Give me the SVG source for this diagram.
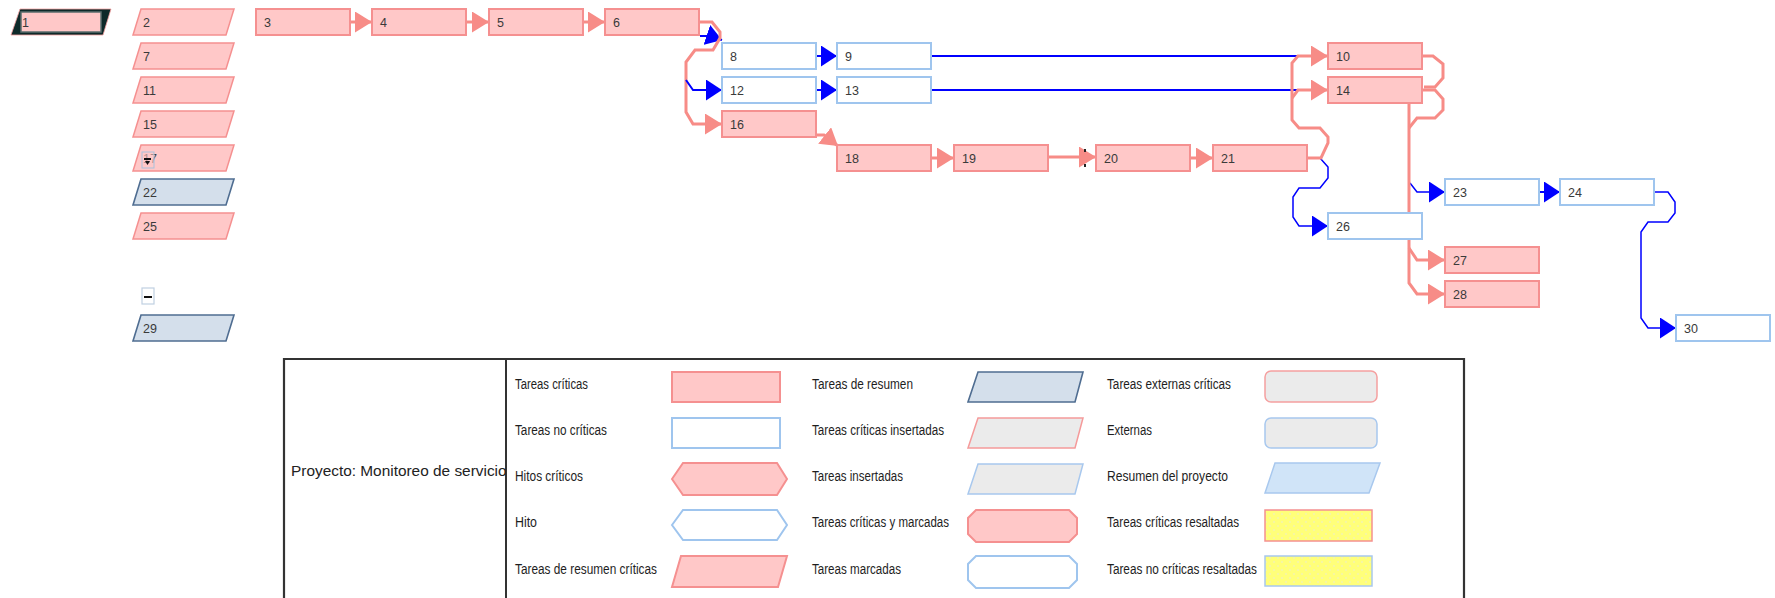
<svg xmlns="http://www.w3.org/2000/svg" width="1775" height="598" viewBox="0 0 1775 598">
<style>
.t{font-family:"Liberation Sans",Arial,sans-serif;font-size:12.5px;fill:#3a3a3a}
.lg{font-family:"Liberation Sans",Arial,sans-serif;font-size:14px;fill:#1e1e1e}
.crit{fill:#ffc8c8;stroke:#f59090;stroke-width:2}
.nc{fill:#ffffff;stroke:#9fc5ee;stroke-width:2}
.sumc{fill:#ffc8c8;stroke:#f59090;stroke-width:1.5}
.sum{fill:#d4dfeb;stroke:#4f6d91;stroke-width:1.6}
.pk{fill:none;stroke:#f78c87;stroke-width:3;stroke-linejoin:miter}
.bl{fill:none;stroke:#0000ff;stroke-width:2}
.bl1{fill:none;stroke:#0000ff;stroke-width:1.5}
.ins{fill:#ebebeb}
</style>
<defs>
<marker id="ap" markerUnits="userSpaceOnUse" viewBox="0 0 17 21" refX="17" refY="10.5" markerWidth="17" markerHeight="21" orient="auto">
<path d="M0,0 L17,10.5 L0,21 Z" fill="#f78c87"/>
</marker>
<marker id="ab" markerUnits="userSpaceOnUse" viewBox="0 0 16 21" refX="16" refY="10.5" markerWidth="16" markerHeight="21" orient="auto">
<path d="M0,0 L16,10.5 L0,21 Z" fill="#0000ff"/>
</marker>
<pattern id="yel" width="8" height="8" patternUnits="userSpaceOnUse">
<rect width="8" height="8" fill="#ffff7a"/>
<circle cx="2" cy="2" r="1" fill="#f4f4b0"/>
<circle cx="6" cy="6" r="1" fill="#f4f4b0"/>
</pattern>
<clipPath id="projclip"><rect x="285" y="360" width="221" height="238"/></clipPath>
</defs>

<g id="connectors">
<path class="pk" d="M351,22 H372" marker-end="url(#ap)"/>
<path class="pk" d="M466,22 H489" marker-end="url(#ap)"/>
<path class="pk" d="M583,22 H605" marker-end="url(#ap)"/>
<path class="bl" d="M700,36 H710 L722,40" marker-end="url(#ab)"/>
<path class="pk" d="M699,22 H712 L720,32 V38 L713,50 H695 L686,62 V112 L693,124 H722" marker-end="url(#ap)"/>
<path class="bl" d="M686,80 L693,90 H722" marker-end="url(#ab)"/>
<path class="bl" d="M817,56 H837" marker-end="url(#ab)"/>
<path class="bl" d="M817,90 H837" marker-end="url(#ab)"/>
<path class="bl" d="M932,56 H1300"/>
<path class="bl" d="M932,90 H1300"/>
<path class="pk" d="M817,135 H824 L838,146" marker-end="url(#ap)"/>
<path class="pk" d="M932,158 H954" marker-end="url(#ap)"/>
<path class="pk" d="M1049,157 H1096" marker-end="url(#ap)"/>
<path class="pk" d="M1191,158 H1213" marker-end="url(#ap)"/>
<path class="bl1" d="M1307,158 H1320 L1328,167 V178 L1320,188 H1299 L1293,197 V217 L1299,226 H1328" marker-end="url(#ab)"/>
<path class="pk" d="M1307,158 H1321 L1328,143 V137 L1320,128 H1299 L1292,120 V63 L1298,56 H1328" marker-end="url(#ap)"/>
<path class="pk" d="M1292,98 L1298,90 H1328" marker-end="url(#ap)"/>
<path class="pk" d="M1422,56 H1433 L1443,64 V78 L1435,87 H1424"/>
<path class="pk" d="M1422,90 H1435 L1443,99 V110 L1435,118 H1417 L1409,128"/>
<path class="bl1" d="M1410,183 L1417,192 H1445" marker-end="url(#ab)"/>
<path class="pk" d="M1409,102 V283 L1417,294 H1445" marker-end="url(#ap)"/>
<path class="pk" d="M1409,248 L1417,260 H1445" marker-end="url(#ap)"/>
<path class="bl" d="M1539,192 H1560" marker-end="url(#ab)"/>
<path class="bl1" d="M1654,192 H1668 L1675,202 V213 L1668,222 H1648 L1641,232 V318 L1648,328 H1676" marker-end="url(#ab)"/>
<rect x="1084" y="149" width="2" height="3" fill="#222"/>
<rect x="1084" y="164" width="2" height="3" fill="#222"/>
</g>

<g id="n1">
<polygon points="20,9 111,9 103,35 11,35" fill="#0e2a2a" stroke="#f5a0a0" stroke-width="0.8"/>
<rect x="21" y="12" width="80" height="20" fill="#ffc8c8" stroke="#5b6e6e" stroke-width="1.5"/>
<text class="t" x="22" y="27">1</text>
</g>
<g id="n2"><polygon class="sumc" points="141,9 234,9 226,35 133,35"/><text class="t" x="143" y="27">2</text></g>
<g id="n7"><polygon class="sumc" points="141,43 234,43 226,69 133,69"/><text class="t" x="143" y="61">7</text></g>
<g id="n11"><polygon class="sumc" points="141,77 234,77 226,103 133,103"/><text class="t" x="143" y="95">11</text></g>
<g id="n15"><polygon class="sumc" points="141,111 234,111 226,137 133,137"/><text class="t" x="143" y="129">15</text></g>
<g id="n17"><polygon class="sumc" points="141,145 234,145 226,171 133,171"/><text class="t" x="143" y="163">17</text>
<rect x="142" y="152" width="12" height="16" fill="#ffc8c8" fill-opacity="0.6" stroke="#a9c2dc" stroke-width="1"/>
<rect x="144" y="158" width="7" height="2" fill="#111"/>
<path d="M145,161 L150,161 L147.5,165 Z" fill="#111"/>
</g>
<g id="n22"><polygon class="sum" points="141,179 234,179 226,205 133,205"/><text class="t" x="143" y="197">22</text></g>
<g id="n25"><polygon class="sumc" points="141,213 234,213 226,239 133,239"/><text class="t" x="143" y="231">25</text></g>
<g id="n29"><polygon class="sum" points="141,315 234,315 226,341 133,341"/><text class="t" x="143" y="333">29</text>
<rect x="142" y="288" width="12" height="16" fill="#fff" stroke="#c0d0e2" stroke-width="1.2"/>
<rect x="144" y="296" width="8" height="2" fill="#111"/>
</g>

<g id="n3"><rect class="crit" x="256" y="9" width="94" height="26"/><text class="t" x="264" y="27">3</text></g>
<g id="n4"><rect class="crit" x="372" y="9" width="94" height="26"/><text class="t" x="380" y="27">4</text></g>
<g id="n5"><rect class="crit" x="489" y="9" width="94" height="26"/><text class="t" x="497" y="27">5</text></g>
<g id="n6"><rect class="crit" x="605" y="9" width="94" height="26"/><text class="t" x="613" y="27">6</text></g>
<g id="n8"><rect class="nc" x="722" y="43" width="94" height="26"/><text class="t" x="730" y="61">8</text></g>
<g id="n12"><rect class="nc" x="722" y="77" width="94" height="26"/><text class="t" x="730" y="95">12</text></g>
<g id="n16"><rect class="crit" x="722" y="111" width="94" height="26"/><text class="t" x="730" y="129">16</text></g>
<g id="n9"><rect class="nc" x="837" y="43" width="94" height="26"/><text class="t" x="845" y="61">9</text></g>
<g id="n13"><rect class="nc" x="837" y="77" width="94" height="26"/><text class="t" x="845" y="95">13</text></g>
<g id="n18"><rect class="crit" x="837" y="145" width="94" height="26"/><text class="t" x="845" y="163">18</text></g>
<g id="n19"><rect class="crit" x="954" y="145" width="94" height="26"/><text class="t" x="962" y="163">19</text></g>
<g id="n20"><rect class="crit" x="1096" y="145" width="94" height="26"/><text class="t" x="1104" y="163">20</text></g>
<g id="n21"><rect class="crit" x="1213" y="145" width="94" height="26"/><text class="t" x="1221" y="163">21</text></g>
<g id="n10"><rect class="crit" x="1328" y="43" width="94" height="26"/><text class="t" x="1336" y="61">10</text></g>
<g id="n14"><rect class="crit" x="1328" y="77" width="94" height="26"/><text class="t" x="1336" y="95">14</text></g>
<g id="n26"><rect class="nc" x="1328" y="213" width="94" height="26"/><text class="t" x="1336" y="231">26</text></g>
<g id="n23"><rect class="nc" x="1445" y="179" width="94" height="26"/><text class="t" x="1453" y="197">23</text></g>
<g id="n24"><rect class="nc" x="1560" y="179" width="94" height="26"/><text class="t" x="1568" y="197">24</text></g>
<g id="n27"><rect class="crit" x="1445" y="247" width="94" height="26"/><text class="t" x="1453" y="265">27</text></g>
<g id="n28"><rect class="crit" x="1445" y="281" width="94" height="26"/><text class="t" x="1453" y="299">28</text></g>
<g id="n30"><rect class="nc" x="1676" y="315" width="94" height="26"/><text class="t" x="1684" y="333">30</text></g>

<g id="legend">
<path d="M284,601 V359 H1464 V601" fill="none" stroke="#333" stroke-width="2.2"/>
<line x1="506" y1="359" x2="506" y2="600" stroke="#333" stroke-width="2"/>
<text clip-path="url(#projclip)" x="291" y="476" font-family="'Liberation Sans',Arial,sans-serif" font-size="15.4" fill="#222">Proyecto: Monitoreo de servicio</text>

<text class="lg" x="515" y="389" textLength="73" lengthAdjust="spacingAndGlyphs">Tareas críticas</text>
<text class="lg" x="515" y="435" textLength="92" lengthAdjust="spacingAndGlyphs">Tareas no críticas</text>
<text class="lg" x="515" y="481" textLength="68" lengthAdjust="spacingAndGlyphs">Hitos críticos</text>
<text class="lg" x="515" y="527" textLength="22" lengthAdjust="spacingAndGlyphs">Hito</text>
<text class="lg" x="515" y="574" textLength="142" lengthAdjust="spacingAndGlyphs">Tareas de resumen críticas</text>

<rect class="crit" x="672" y="372" width="108" height="30" stroke-width="1.5"/>
<rect class="nc" x="672" y="418" width="108" height="30" stroke-width="1.5"/>
<polygon class="crit" stroke-width="1.5" points="672,479 683,463 777,463 787,479 777,495 683,495"/>
<polygon class="nc" stroke-width="1.5" points="672,525 683,510 777,510 787,525 777,540 683,540"/>
<polygon class="crit" stroke-width="1.5" points="681,556 787,556 778,587 672,587"/>

<text class="lg" x="812" y="389" textLength="101" lengthAdjust="spacingAndGlyphs">Tareas de resumen</text>
<text class="lg" x="812" y="435" textLength="132" lengthAdjust="spacingAndGlyphs">Tareas críticas insertadas</text>
<text class="lg" x="812" y="481" textLength="91" lengthAdjust="spacingAndGlyphs">Tareas insertadas</text>
<text class="lg" x="812" y="527" textLength="137" lengthAdjust="spacingAndGlyphs">Tareas críticas y marcadas</text>
<text class="lg" x="812" y="574" textLength="89" lengthAdjust="spacingAndGlyphs">Tareas marcadas</text>

<polygon class="sum" points="978,372 1083,372 1075,402 968,402"/>
<polygon class="ins" stroke="#f59a9a" stroke-width="1.5" points="978,418 1083,418 1075,448 968,448"/>
<polygon class="ins" stroke="#a8c8ee" stroke-width="1.5" points="978,464 1083,464 1075,494 968,494"/>
<polygon class="crit" stroke-width="1.5" points="976,510 1069,510 1077,518 1077,534 1069,542 976,542 968,534 968,518"/>
<polygon class="nc" stroke-width="1.5" points="976,556 1069,556 1077,564 1077,580 1069,588 976,588 968,580 968,564"/>

<text class="lg" x="1107" y="389" textLength="124" lengthAdjust="spacingAndGlyphs">Tareas externas críticas</text>
<text class="lg" x="1107" y="435" textLength="45" lengthAdjust="spacingAndGlyphs">Externas</text>
<text class="lg" x="1107" y="481" textLength="121" lengthAdjust="spacingAndGlyphs">Resumen del proyecto</text>
<text class="lg" x="1107" y="527" textLength="132" lengthAdjust="spacingAndGlyphs">Tareas críticas resaltadas</text>
<text class="lg" x="1107" y="574" textLength="150" lengthAdjust="spacingAndGlyphs">Tareas no críticas resaltadas</text>

<rect class="ins" x="1265" y="371" width="112" height="31" rx="6" stroke="#f5a0a0" stroke-width="1.5"/>
<rect class="ins" x="1265" y="418" width="112" height="30" rx="6" stroke="#a8c8ee" stroke-width="1.5"/>
<polygon points="1275,463 1380,463 1369,493 1265,493" fill="#d0e4f8" stroke="#a8c8ee" stroke-width="1.5"/>
<rect x="1265" y="510" width="107" height="31" fill="url(#yel)" stroke="#f59090" stroke-width="1.5"/>
<rect x="1265" y="556" width="107" height="30" fill="url(#yel)" stroke="#a8c8ee" stroke-width="1.5"/>
</g>
</svg>
